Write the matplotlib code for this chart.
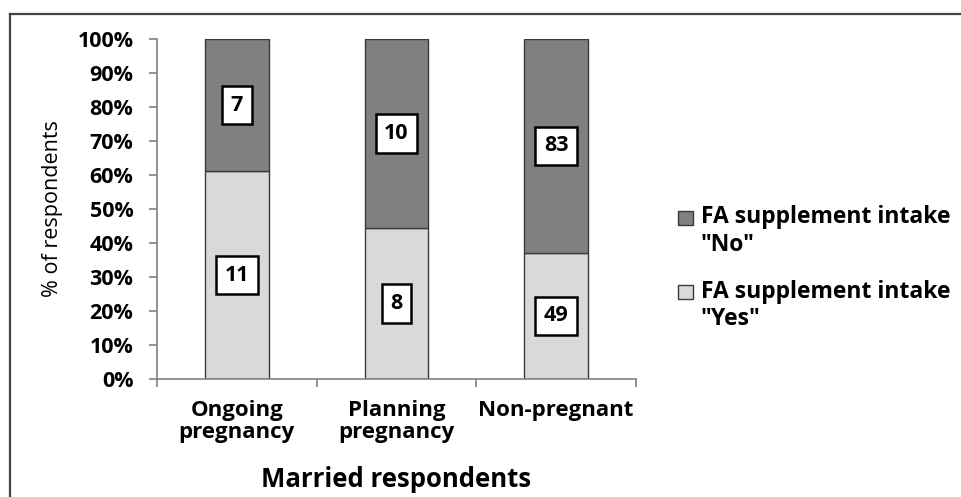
import matplotlib
matplotlib.use("Agg")
import matplotlib.pyplot as plt
from matplotlib.lines import Line2D
from matplotlib.patches import Rectangle
from matplotlib.legend_handler import HandlerPatch
import numpy as np

categories = ["Ongoing\npregnancy", "Planning\npregnancy", "Non-pregnant"]
yes_counts = [11, 8, 49]
no_counts = [7, 10, 83]
series_labels = ['FA supplement intake\n"No"', 'FA supplement intake\n"Yes"']
y_ticks = [0, 10, 20, 30, 40, 50, 60, 70, 80, 90, 100]

plt.rcParams['font.family'] = ['Open Sans', 'DejaVu Sans']

yes = np.array(yes_counts, float)
no = np.array(no_counts, float)
tot = yes + no
yes_pct = yes / tot * 100
no_pct = no / tot * 100

fig = plt.figure(figsize=(9.62, 4.97), dpi=100)
ax = fig.add_axes([157/962, 1-379/497, (636-157)/962, (379-39)/497])

x = np.arange(len(categories))
c_no = "#808080"
c_yes = "#d9d9d9"
edge = "#3a3a3a"
b_yes = ax.bar(x, yes_pct, width=0.4, color=c_yes, edgecolor=edge, linewidth=1.0, label=series_labels[1])
b_no = ax.bar(x, no_pct, bottom=yes_pct, width=0.4, color=c_no, edgecolor=edge, linewidth=1.0, label=series_labels[0])

bbox = dict(boxstyle="square,pad=0.4", facecolor="white", edgecolor="black", linewidth=1.8)
for i in range(len(x)):
    ax.text(x[i], yes_pct[i] / 2, f"{yes_counts[i]}", ha="center", va="center",
            fontsize=15.5, fontweight="bold", bbox=bbox, color="black")
    ax.text(x[i], yes_pct[i] + no_pct[i] / 2, f"{no_counts[i]}", ha="center", va="center",
            fontsize=15.5, fontweight="bold", bbox=bbox, color="black")

ax.set_xlim(-0.5, len(categories) - 0.5)
ax.set_ylim(0, 100)
ax.set_yticks(y_ticks)
ax.set_yticklabels([f"{t}%" for t in y_ticks], fontsize=15.5, fontweight="bold")
ax.set_xticks(np.arange(len(categories) + 1) - 0.5)
ax.set_xticklabels([])
ax.set_xticks(x, minor=True)
ax.set_xticklabels(categories, minor=True, fontsize=16, fontweight="bold", linespacing=1.1)
ax.tick_params(axis="x", which="minor", length=0, pad=15)
ax.tick_params(axis="x", which="major", length=6, width=1.2, color="#808080", direction="out")
ax.tick_params(axis="y", length=6, width=1.2, color="#808080", pad=11)

for s in ["top", "right"]:
    ax.spines[s].set_visible(False)
for s in ["left", "bottom"]:
    ax.spines[s].set_color("#808080")
    ax.spines[s].set_linewidth(1.2)

ax.set_xlabel("Married respondents", fontsize=18.5, fontweight="bold", labelpad=16)
ax.set_ylabel("% of respondents", fontsize=15.5, fontweight="normal", labelpad=10)


def top_rect(legend, orig_handle, xdescent, ydescent, width, height, fontsize):
    return Rectangle((-xdescent, -ydescent + 10), width, height)


handles = [b_no[0], b_yes[0]]
leg = fig.legend(handles, series_labels, loc="upper left", bbox_to_anchor=(678/962, 1-205/497),
                 frameon=False, handlelength=0.65, handleheight=0.57,
                 handletextpad=0.35, labelspacing=1.0, borderaxespad=0, borderpad=0,
                 prop={"weight": "bold", "size": 16.5},
                 handler_map={Rectangle: HandlerPatch(patch_func=top_rect)})
for t in leg.get_texts():
    t.set_linespacing(1.2)

# outer frame (top and left border)
fig.add_artist(Line2D([10/962, 1.0], [1-13.5/497, 1-13.5/497], transform=fig.transFigure,
                      color="#444444", linewidth=1.6))
fig.add_artist(Line2D([10/962, 10/962], [0, 1-13.5/497], transform=fig.transFigure,
                      color="#444444", linewidth=1.6))

fig.savefig("out.png", dpi=100)
